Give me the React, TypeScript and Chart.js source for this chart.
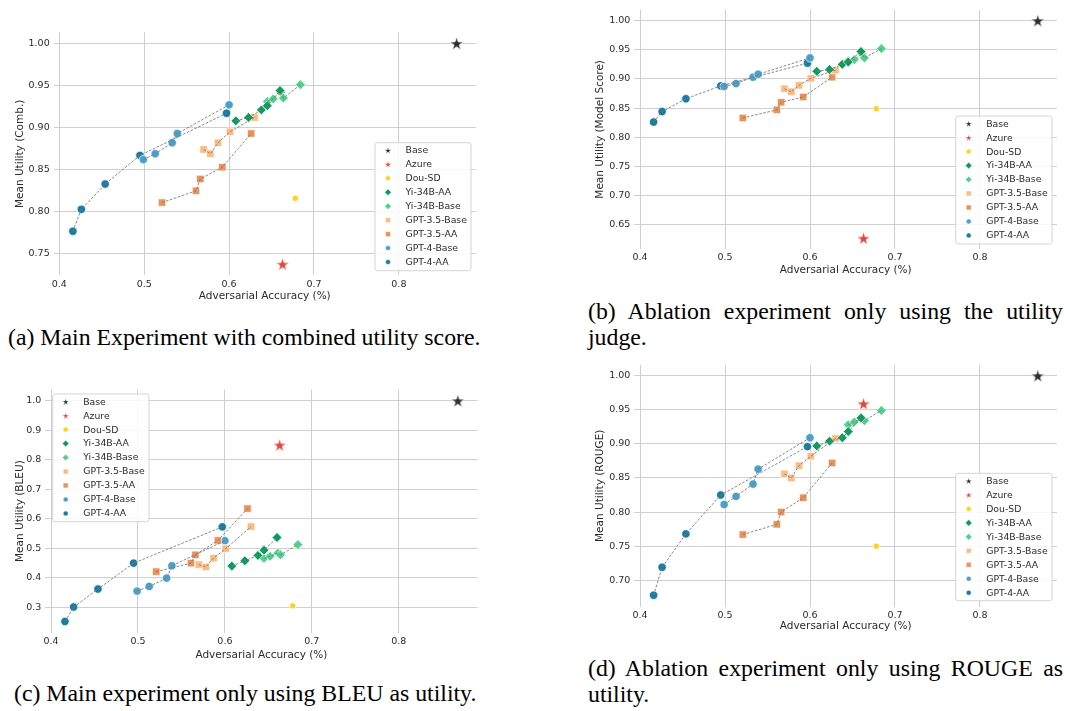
import React, { useEffect, useRef } from "react";
import { Chart, registerables } from "chart.js";
Chart.register(...registerables);

// ---------- shared data ----------
const SERIES_LABELS = ["Base", "Azure", "Dou-SD", "Yi-34B-AA", "Yi-34B-Base", "GPT-3.5-Base", "GPT-3.5-AA", "GPT-4-Base", "GPT-4-AA"];
const SERIES_COLORS = ["#2e2e2e", "#e8453c", "#ffd21f", "#0b9b5f", "#4fd28b", "#fdbb82", "#e9925b", "#4aa2cb", "#1d7b9f"];
const SERIES_SHAPES = ["star", "star", "circle", "rectRot", "rectRot", "rect", "rect", "circle", "circle"];
const SERIES_RADIUS = [7.2, 7.2, 3.1, 4.9, 4.9, 5.3, 5.3, 4.2, 4.2];
const SERIES_LINE = [false, false, false, true, true, true, true, true, true];

// adversarial accuracy (x), same for every panel
const BASE_X = [0.868];
const AZURE_X = [0.663];
const DOU_X = [0.678];
const YI_AA_X = [0.608, 0.623, 0.638, 0.645, 0.660];
const YI_BASE_X = [0.645, 0.652, 0.661, 0.664, 0.684];
const GPT35_BASE_X = [0.570, 0.578, 0.587, 0.601, 0.630];
const GPT35_AA_X = [0.521, 0.561, 0.566, 0.592, 0.626];
const GPT4_BASE_X = [0.499, 0.513, 0.533, 0.539, 0.600];
const GPT4_AA_X = [0.416, 0.426, 0.454, 0.495, 0.597];
const SERIES_X = [BASE_X, AZURE_X, DOU_X, YI_AA_X, YI_BASE_X, GPT35_BASE_X, GPT35_AA_X, GPT4_BASE_X, GPT4_AA_X];

// (a) combined utility
const BASE_COMB = [1.0];
const AZURE_COMB = [0.738];
const DOU_COMB = [0.816];
const YI_AA_COMB = [0.908, 0.912, 0.921, 0.926, 0.944];
const YI_BASE_COMB = [0.931, 0.934, 0.942, 0.935, 0.951];
const GPT35_BASE_COMB = [0.874, 0.869, 0.882, 0.895, 0.912];
const GPT35_AA_COMB = [0.811, 0.825, 0.839, 0.853, 0.893];
const GPT4_BASE_COMB = [0.862, 0.869, 0.882, 0.893, 0.927];
const GPT4_AA_COMB = [0.777, 0.803, 0.833, 0.867, 0.917];

// (b) model score
const BASE_MODEL = [1.0];
const AZURE_MODEL = [0.627];
const DOU_MODEL = [0.849];
const YI_AA_MODEL = [0.913, 0.916, 0.925, 0.929, 0.947];
const YI_BASE_MODEL = [0.931, 0.933, 0.943, 0.936, 0.952];
const GPT35_BASE_MODEL = [0.883, 0.878, 0.889, 0.901, 0.915];
const GPT35_AA_MODEL = [0.833, 0.847, 0.860, 0.869, 0.903];
const GPT4_BASE_MODEL = [0.887, 0.892, 0.903, 0.908, 0.936];
const GPT4_AA_MODEL = [0.826, 0.844, 0.866, 0.888, 0.927];

// (c) BLEU
const BASE_BLEU = [1.0];
const AZURE_BLEU = [0.850];
const DOU_BLEU = [0.304];
const YI_AA_BLEU = [0.439, 0.457, 0.475, 0.493, 0.536];
const YI_BASE_BLEU = [0.465, 0.472, 0.483, 0.477, 0.512];
const GPT35_BASE_BLEU = [0.444, 0.436, 0.466, 0.498, 0.573];
const GPT35_AA_BLEU = [0.420, 0.449, 0.477, 0.526, 0.634];
const GPT4_BASE_BLEU = [0.354, 0.370, 0.398, 0.440, 0.525];
const GPT4_AA_BLEU = [0.251, 0.300, 0.361, 0.449, 0.572];

// (d) ROUGE
const BASE_ROUGE = [1.0];
const AZURE_ROUGE = [0.959];
const DOU_ROUGE = [0.750];
const YI_AA_ROUGE = [0.897, 0.904, 0.909, 0.918, 0.938];
const YI_BASE_ROUGE = [0.928, 0.932, 0.938, 0.934, 0.949];
const GPT35_BASE_ROUGE = [0.856, 0.850, 0.868, 0.882, 0.908];
const GPT35_AA_ROUGE = [0.767, 0.782, 0.800, 0.821, 0.872];
const GPT4_BASE_ROUGE = [0.811, 0.823, 0.841, 0.863, 0.909];
const GPT4_AA_ROUGE = [0.678, 0.719, 0.768, 0.825, 0.896];

// tick values / labels
const X_TICKS = [0.4, 0.5, 0.6, 0.7, 0.8];
const X_TICK_LABELS = ["0.4", "0.5", "0.6", "0.7", "0.8"];
const COMB_TICKS = [0.75, 0.8, 0.85, 0.9, 0.95, 1.0];
const COMB_TICK_LABELS = ["0.75", "0.80", "0.85", "0.90", "0.95", "1.00"];
const MODEL_TICKS = [0.65, 0.7, 0.75, 0.8, 0.85, 0.9, 0.95, 1.0];
const MODEL_TICK_LABELS = ["0.65", "0.70", "0.75", "0.80", "0.85", "0.90", "0.95", "1.00"];
const BLEU_TICKS = [0.3, 0.4, 0.5, 0.6, 0.7, 0.8, 0.9, 1.0];
const BLEU_TICK_LABELS = ["0.3", "0.4", "0.5", "0.6", "0.7", "0.8", "0.9", "1.0"];
const ROUGE_TICKS = [0.7, 0.75, 0.8, 0.85, 0.9, 0.95, 1.0];
const ROUGE_TICK_LABELS = ["0.70", "0.75", "0.80", "0.85", "0.90", "0.95", "1.00"];

const X_TITLE = "Adversarial Accuracy (%)";
const FONT = '"DejaVu Sans", sans-serif';
const TEXT_COLOR = "#2b2b2b";
const GRID_COLOR = "#cfcfcf";

type PanelDef = {
  canvas: { left: number; top: number; w: number; h: number };
  area: { L: number; R: number; T: number; B: number };
  xMin: number; xMax: number; yMin: number; yMax: number;
  yTicks: number[]; yTickLabels: string[]; yTitle: string; xTitlePad: number;
  legend: { x: number; y: number; w: number; h: number };
  ys: number[][];
};

const PANELS: PanelDef[] = [
  {
    canvas: { left: 0, top: 0, w: 490, h: 306 },
    area: { L: 53.7, R: 475.8, T: 32.3, B: 275.4 },
    xMin: 0.3934, xMax: 0.8906, yMin: 0.7246, yMax: 1.0131,
    yTicks: COMB_TICKS, yTickLabels: COMB_TICK_LABELS, yTitle: "Mean Utility (Comb.)", xTitlePad: 3,
    legend: { x: 375, y: 142.7, w: 96, h: 128 },
    ys: [BASE_COMB, AZURE_COMB, DOU_COMB, YI_AA_COMB, YI_BASE_COMB, GPT35_BASE_COMB, GPT35_AA_COMB, GPT4_BASE_COMB, GPT4_AA_COMB],
  },
  {
    canvas: { left: 580, top: 0, w: 490, h: 285 },
    area: { L: 634.4, R: 1057, T: 5.6, B: 249 },
    xMin: 0.3934, xMax: 0.8906, yMin: 0.6084, yMax: 1.01865,
    yTicks: MODEL_TICKS, yTickLabels: MODEL_TICK_LABELS, yTitle: "Mean Utility (Model Score)", xTitlePad: 8.7,
    legend: { x: 955.7, y: 116, w: 96.3, h: 128 },
    ys: [BASE_MODEL, AZURE_MODEL, DOU_MODEL, YI_AA_MODEL, YI_BASE_MODEL, GPT35_BASE_MODEL, GPT35_AA_MODEL, GPT4_BASE_MODEL, GPT4_AA_MODEL],
  },
  {
    canvas: { left: 0, top: 380, w: 490, h: 290 },
    area: { L: 45.3, R: 477.5, T: 388.9, B: 632.5 },
    xMin: 0.3934, xMax: 0.8906, yMin: 0.2136, yMax: 1.03745,
    yTicks: BLEU_TICKS, yTickLabels: BLEU_TICK_LABELS, yTitle: "Mean Utility (BLEU)", xTitlePad: 8.7,
    legend: { x: 52.7, y: 394, w: 96.3, h: 127.7 },
    ys: [BASE_BLEU, AZURE_BLEU, DOU_BLEU, YI_AA_BLEU, YI_BASE_BLEU, GPT35_BASE_BLEU, GPT35_AA_BLEU, GPT4_BASE_BLEU, GPT4_AA_BLEU],
  },
  {
    canvas: { left: 580, top: 355, w: 490, h: 290 },
    area: { L: 634.4, R: 1057, T: 362.2, B: 606.9 },
    xMin: 0.3934, xMax: 0.8906, yMin: 0.6609, yMax: 1.01615,
    yTicks: ROUGE_TICKS, yTickLabels: ROUGE_TICK_LABELS, yTitle: "Mean Utility (ROUGE)", xTitlePad: 12,
    legend: { x: 955.7, y: 473.3, w: 96.3, h: 127.4 },
    ys: [BASE_ROUGE, AZURE_ROUGE, DOU_ROUGE, YI_AA_ROUGE, YI_BASE_ROUGE, GPT35_BASE_ROUGE, GPT35_AA_ROUGE, GPT4_BASE_ROUGE, GPT4_AA_ROUGE],
  },
];

// ---------- marker drawing ----------
function pathShape(ctx: CanvasRenderingContext2D, shape: string, x: number, y: number, r: number) {
  ctx.beginPath();
  if (shape === "circle") {
    ctx.arc(x, y, r, 0, Math.PI * 2);
  } else if (shape === "rect") {
    const s = r * Math.SQRT1_2;
    ctx.rect(x - s, y - s, 2 * s, 2 * s);
  } else if (shape === "rectRot") {
    ctx.moveTo(x, y - r);
    ctx.lineTo(x + r, y);
    ctx.lineTo(x, y + r);
    ctx.lineTo(x - r, y);
  } else {
    const inner = r * 0.382;
    const cy = y + r * 0.095;
    for (let i = 0; i < 10; i++) {
      const a = -Math.PI / 2 + (i * Math.PI) / 5;
      const rr = i % 2 === 0 ? r : inner;
      const px = x + rr * Math.cos(a);
      const py = cy + rr * Math.sin(a);
      if (i === 0) ctx.moveTo(px, py);
      else ctx.lineTo(px, py);
    }
  }
  ctx.closePath();
}

function drawMarker(ctx: CanvasRenderingContext2D, shape: string, color: string, x: number, y: number, r: number, edge = 0.7) {
  pathShape(ctx, shape, x, y, r);
  ctx.fillStyle = color;
  ctx.fill();
  if (edge > 0) {
    ctx.strokeStyle = "#ffffff";
    ctx.lineWidth = edge;
    ctx.stroke();
  }
}

function makeStarImage(color: string, r: number) {
  const size = Math.ceil(r * 2 + 2);
  const c = document.createElement("canvas");
  c.width = size;
  c.height = size;
  const ctx = c.getContext("2d")!;
  drawMarker(ctx, "star", color, size / 2, size / 2, r, 0.8);
  return c;
}

const LEGEND_R = [3.6, 3.6, 2.5, 3.3, 3.3, 3.5, 3.5, 2.5, 2.5];

function makeLegendPlugin(p: PanelDef) {
  return {
    id: "boxLegend",
    afterDraw(chart: any) {
      const ctx: CanvasRenderingContext2D = chart.ctx;
      const bx = p.legend.x - p.canvas.left;
      const by = p.legend.y - p.canvas.top;
      const { w, h } = p.legend;
      ctx.save();
      const rad = 2.5;
      ctx.beginPath();
      ctx.moveTo(bx + rad, by);
      ctx.lineTo(bx + w - rad, by);
      ctx.quadraticCurveTo(bx + w, by, bx + w, by + rad);
      ctx.lineTo(bx + w, by + h - rad);
      ctx.quadraticCurveTo(bx + w, by + h, bx + w - rad, by + h);
      ctx.lineTo(bx + rad, by + h);
      ctx.quadraticCurveTo(bx, by + h, bx, by + h - rad);
      ctx.lineTo(bx, by + rad);
      ctx.quadraticCurveTo(bx, by, bx + rad, by);
      ctx.closePath();
      ctx.fillStyle = "rgba(255,255,255,0.85)";
      ctx.fill();
      ctx.strokeStyle = "#d4d4d4";
      ctx.lineWidth = 1;
      ctx.stroke();
      ctx.font = `9.3px ${FONT}`;
      ctx.textBaseline = "middle";
      ctx.textAlign = "left";
      SERIES_LABELS.forEach((label, i) => {
        const cy = by + 7.7 + i * 13.96;
        drawMarker(ctx, SERIES_SHAPES[i], SERIES_COLORS[i], bx + 13, cy, LEGEND_R[i], 0.5);
        ctx.fillStyle = TEXT_COLOR;
        ctx.fillText(label, bx + 30.5, cy + 0.5);
      });
      ctx.restore();
    },
  };
}

function buildConfig(p: PanelDef): any {
  const scatterSets: any[] = SERIES_LABELS.map((label, i) => {
    const xs = SERIES_X[i];
    const ys = p.ys[i];
    const isStar = SERIES_SHAPES[i] === "star";
    return {
      label,
      data: xs.map((x, j) => ({ x, y: ys[j] })),
      showLine: false,
      order: 1,
      pointStyle: isStar ? makeStarImage(SERIES_COLORS[i], SERIES_RADIUS[i]) : SERIES_SHAPES[i],
      pointRadius: SERIES_RADIUS[i],
      pointBackgroundColor: SERIES_COLORS[i],
      pointBorderColor: "#ffffff",
      pointBorderWidth: 0.7,
      clip: false,
    };
  });
  const lineSets: any[] = [];
  SERIES_LABELS.forEach((label, i) => {
    if (!SERIES_LINE[i]) return;
    const xs = SERIES_X[i];
    const ys = p.ys[i];
    const pts = xs.map((x, j) => ({ x, y: ys[j] })).sort((a, b) => a.x - b.x);
    lineSets.push({
      label: label + " line",
      data: pts,
      showLine: true,
      order: 0,
      pointRadius: 0,
      borderColor: "#7a7a7a",
      borderWidth: 0.9,
      borderDash: [2.6, 1.6],
      fill: false,
      tension: 0,
    });
  });

  const c = p.canvas;
  const padTop = p.area.T - c.top;
  const padRight = c.left + c.w - p.area.R;
  const yWidth = p.area.L - c.left;
  const xHeight = c.top + c.h - p.area.B;

  return {
    type: "scatter",
    data: { datasets: [...scatterSets, ...lineSets] },
    options: {
      animation: false,
      responsive: false,
      maintainAspectRatio: false,
      events: [],
      layout: { padding: { left: 0, right: padRight, top: padTop, bottom: 0 } },
      plugins: { legend: { display: false }, tooltip: { enabled: false }, title: { display: false } },
      scales: {
        x: {
          type: "linear",
          position: "bottom",
          min: p.xMin,
          max: p.xMax,
          border: { display: false },
          grid: { color: GRID_COLOR, lineWidth: 1, drawTicks: false },
          ticks: {
            padding: 3,
            color: TEXT_COLOR,
            font: { family: FONT, size: 9.5 },
            maxRotation: 0,
            autoSkip: false,
            callback: (_v: any, idx: number) => X_TICK_LABELS[idx],
          },
          title: {
            display: true,
            text: X_TITLE,
            color: TEXT_COLOR,
            font: { family: FONT, size: 10.5 },
            padding: { top: 0, bottom: p.xTitlePad },
          },
          afterBuildTicks: (s: any) => {
            s.ticks = X_TICKS.map((v) => ({ value: v }));
          },
          afterFit: (s: any) => {
            s.height = xHeight;
          },
        },
        y: {
          type: "linear",
          position: "left",
          min: p.yMin,
          max: p.yMax,
          border: { display: false },
          grid: { color: GRID_COLOR, lineWidth: 1, drawTicks: false },
          ticks: {
            padding: 4,
            color: TEXT_COLOR,
            font: { family: FONT, size: 9.5 },
            autoSkip: false,
            callback: (_v: any, idx: number) => p.yTickLabels[idx],
          },
          title: {
            display: true,
            text: p.yTitle,
            color: TEXT_COLOR,
            font: { family: FONT, size: 10.5 },
            padding: { top: 14.4, bottom: 0 },
          },
          afterBuildTicks: (s: any) => {
            s.ticks = p.yTicks.map((v) => ({ value: v }));
          },
          afterFit: (s: any) => {
            s.width = yWidth;
          },
        },
      },
    },
    plugins: [makeLegendPlugin(p)],
  };
}

function Panel({ p }: { p: PanelDef }) {
  const ref = useRef<HTMLCanvasElement>(null);
  useEffect(() => {
    if (!ref.current) return;
    const chart = new Chart(ref.current, buildConfig(p));
    return () => chart.destroy();
  }, [p]);
  return (
    <canvas
      ref={ref}
      width={p.canvas.w}
      height={p.canvas.h}
      style={{ position: "absolute", left: p.canvas.left, top: p.canvas.top, width: p.canvas.w, height: p.canvas.h }}
    />
  );
}

const CAPTION_STYLE: React.CSSProperties = {
  position: "absolute",
  fontFamily: '"Liberation Serif", "Times New Roman", serif',
  fontSize: 23.8,
  lineHeight: "26px",
  color: "#000",
};

export default function App() {
  return (
    <div style={{ position: "absolute", left: 0, top: 0, width: 1070, height: 711, background: "#fff", overflow: "hidden" }}>
      {PANELS.map((p, i) => (
        <Panel key={i} p={p} />
      ))}
      <div style={{ ...CAPTION_STYLE, left: 8, top: 324, whiteSpace: "nowrap" }}>
        (a) Main Experiment with combined utility score.
      </div>
      <div style={{ ...CAPTION_STYLE, left: 588, top: 298, width: 475, textAlign: "justify" }}>
        (b) Ablation experiment only using the utility judge.
      </div>
      <div style={{ ...CAPTION_STYLE, left: 14, top: 680, whiteSpace: "nowrap" }}>
        (c) Main experiment only using BLEU as utility.
      </div>
      <div style={{ ...CAPTION_STYLE, left: 588, top: 655, width: 475, textAlign: "justify" }}>
        (d) Ablation experiment only using ROUGE as utility.
      </div>
    </div>
  );
}
